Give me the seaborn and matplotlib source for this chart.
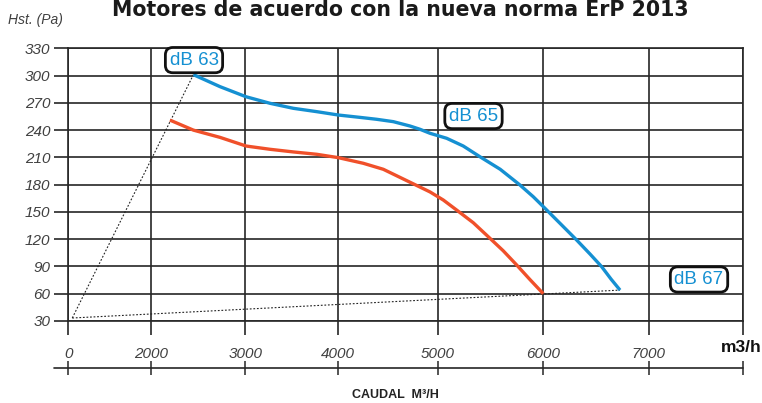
import numpy as np
import matplotlib
matplotlib.use("Agg")
import matplotlib.pyplot as plt
import seaborn as sns

# Fan curves: airflow (m3/h) vs static pressure (Pa)
blue_q = [2450, 2732, 3008, 3267, 3519, 3773, 4006, 4223, 4390, 4556, 4723, 4823, 4923,
          5085, 5242, 5400, 5592, 5779, 5905, 6007, 6158, 6317, 6443, 6554, 6644, 6728]
blue_p = [301, 287.8, 276.7, 269.5, 264, 260.3, 256.6, 254, 251.9, 249.3, 244.5, 240.9, 236.5,
          231, 222.5, 210.7, 196.9, 179.6, 166.7, 155, 137.5, 119, 103.7, 89.7, 75.9, 64]
orange_q = [2201, 2449, 2732, 3008, 3267, 3519, 3773, 4006, 4256, 4456, 4923, 5053, 5180,
            5337, 5479, 5620, 5748, 5871, 6000]
orange_p = [251, 240, 232, 222.5, 218.9, 216, 213.4, 209.7, 203.5, 196.9, 172, 163.1, 152,
            138.1, 122.7, 107.3, 91.6, 75.9, 60]

# System lines from the origin point
sys_origin = (96, 33.3)
sys_upper_end = (2450, 301)
sys_lower_end = (6728, 64)

# Axis ticks
x_ticks = [0, 2000, 3000, 4000, 5000, 6000, 7000, 8000]
x_tick_labels = ["0", "2000", "3000", "4000", "5000", "6000", "7000", ""]
y_ticks = [30, 60, 90, 120, 150, 180, 210, 240, 270, 300, 330]

# Noise level labels
db_labels = ["dB 63", "dB 65", "dB 67"]
db_label_q = [2456, 5339, 7532]
db_label_p = [317, 255.5, 75.7]

BLUE = "#1590d2"
ORANGE = "#f0502a"
GRID = "#262626"
TXT = "#404040"

sns.set_theme(style="white")
plt.rcParams["font.family"] = ["Liberation Sans", "DejaVu Sans"]

fig = plt.figure(figsize=(7.62, 4.03), dpi=100)
W, H = 762, 403
ax = fig.add_axes([68.3 / W, 82 / H, 675 / W, 272.7 / H])

# Non-uniform airflow axis: each labelled flow value has its own column width
col_edges = np.array([0.0, 82.7, 177.0, 269.4, 369.4, 475.0, 580.4, 675.0]) / 675.0
q_edges = np.array(x_ticks, dtype=float)


def q_forward(q):
    return np.interp(q, q_edges, col_edges)


def q_inverse(f):
    return np.interp(f, col_edges, q_edges)


ax.set_xscale("function", functions=(q_forward, q_inverse))
ax.set_xlim(0, 8000)
ax.set_ylim(30, 330)

sns.lineplot(x=blue_q, y=blue_p, ax=ax, color=BLUE, lw=2.4, sort=False, estimator=None, zorder=4)
sns.lineplot(x=orange_q, y=orange_p, ax=ax, color=ORANGE, lw=2.4, sort=False, estimator=None, zorder=4)
for ln in ax.lines:
    ln.set_solid_joinstyle("round")
    ln.set_solid_capstyle("butt")

dot = dict(color="#222222", lw=0.8, linestyle=(0, (1.6, 1.6)), zorder=3)
ax.plot([sys_origin[0], sys_upper_end[0]], [sys_origin[1], sys_upper_end[1]], **dot)
ax.plot([sys_origin[0], sys_lower_end[0]], [sys_origin[1], sys_lower_end[1]], **dot)

ax.set_xticks(x_ticks)
ax.set_xticklabels(x_tick_labels)
ax.set_yticks(y_ticks)
ax.set_yticklabels([str(v) for v in y_ticks])
ax.set_xlabel("")
ax.set_ylabel("")

ax.grid(True, color=GRID, lw=1.2)
ax.set_axisbelow(True)
for s in ax.spines.values():
    s.set_visible(True)
    s.set_color(GRID)
    s.set_linewidth(1.2)

ax.tick_params(axis="both", direction="out", length=10, width=1.2, color=GRID,
               labelcolor=TXT, labelsize=11)
ax.tick_params(axis="x", pad=9, bottom=True)
ax.tick_params(axis="y", pad=3, left=True)
for lab in ax.get_xticklabels() + ax.get_yticklabels():
    lab.set_fontstyle("italic")

# Noise labels in rounded boxes
for txt, q, p in zip(db_labels, db_label_q, db_label_p):
    ax.text(q, p, txt, color=BLUE, fontsize=13.5, ha="center", va="center", zorder=6,
            bbox=dict(boxstyle="round,pad=0.22,rounding_size=0.4", fc="white", ec="#111111", lw=2))

# Lower ruler with tick marks
ax2 = fig.add_axes([68.3 / W, (H - 368.3) / H, 675 / W, 0.0001], sharex=ax)
for s in ax2.spines.values():
    s.set_visible(False)
ax2.set_yticks([])
ax2.tick_params(axis="x", direction="inout", length=9.6, width=1.1, color=GRID,
                labelbottom=False, bottom=True)
ax2.plot([-14.3 / 675, 1.0], [0, 0], transform=ax2.transAxes, color=GRID, lw=1.2, clip_on=False)
ax2.set_facecolor("none")

fig.text(400 / W, 1 - 10 / H, "Motores de acuerdo con la nueva norma ErP 2013",
         ha="center", va="center", fontsize=14.8, fontweight="heavy", color="#1a1a1a",
         family=["DejaVu Sans"])
fig.text(8 / W, 1 - 20 / H, "Hst. (Pa)", ha="left", va="center", fontsize=10,
         style="italic", color=TXT)
fig.text(762 / W, 1 - 348 / H, "m3/h", ha="right", va="center", fontsize=12.5,
         fontweight="bold", color="#111111")
fig.text(395 / W, 1 - 395 / H, "CAUDAL  M³/H", ha="center", va="center", fontsize=9,
         fontweight="bold", color="#222222")

fig.savefig("out.png", dpi=100)
